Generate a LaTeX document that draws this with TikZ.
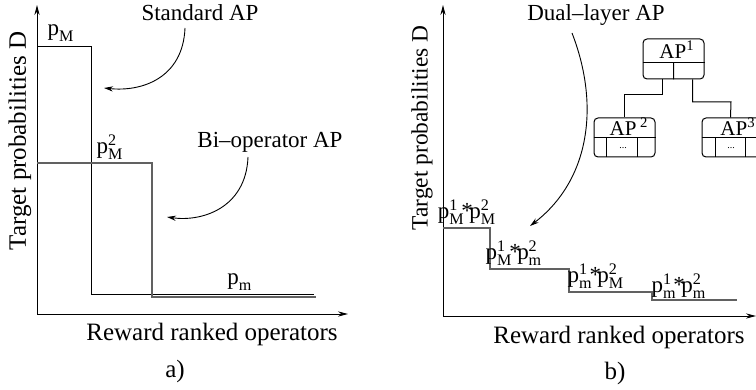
\documentclass[tikz,border=0pt]{standalone}
\usepackage{amsmath}
\usepackage{fontspec}
\setmainfont{Liberation Serif}
\usetikzlibrary{arrows.meta,calc}
\newcommand{\pq}[2]{p\ensuremath{{}^{\text{#1}}_{\text{#2}}}}
\newcommand{\pqq}[4]{\pq{#1}{#2}\kern-1.6pt*\kern-1.8pt\pq{#3}{#4}}
\begin{document}
\begin{tikzpicture}[x=0.5pt,y=-0.5pt,
  axis/.style={line width=0.5pt,-{Stealth[length=5pt,width=2.6pt]}},
  curvearrow/.style={line width=0.45pt,-{Stealth[length=4.5pt,width=2.6pt]}},
  lbl/.style={inner sep=0pt,font=\fontsize{11.5}{13}\selectfont},
  axlbl/.style={inner sep=0pt,font=\fontsize{12.5}{15}\selectfont},
  plotline/.style={line width=0.5pt},
  grayline/.style={line width=0.6pt,draw=black!62},
  apbox/.style={draw,rounded corners=2pt,minimum width=30.5pt,minimum height=19.5pt,inner sep=0pt,line width=0.5pt},
  aptext/.style={inner sep=0pt,font=\fontsize{10.5}{11}\selectfont},
  dots/.style={inner sep=0pt,font=\fontsize{5}{5}\selectfont},
  cell/.style={line width=0.5pt},
  link/.style={line width=0.5pt}
  ]
\useasboundingbox (0,0) rectangle (756,390);
\clip (0,0) rectangle (756,390);

% ---------------- panel a ----------------
\coordinate (oa) at (37,314);
\coordinate (ya) at (37,5);
\coordinate (xa) at (348,314);
\draw[axis] (oa) -- (ya);
\draw[axis] (oa) -- (xa);
\node[axlbl,rotate=90] (yla) at (20,141) {Target probabilities D};
\node[axlbl] (xla) at (212,334) {Reward ranked operators};
\node[axlbl] (capa) at (175,371) {a)};

\draw[plotline] (37,47) -| (91,294) -- (314,294);
\draw[grayline] (37,163) -| (152,297) -- (316,297);

\node[lbl] (pM) at (61,33) {\pq{}{M}};
\node[lbl] (pM2) at (110,147) {\pq{2}{M}};
\node[lbl] (pm) at (240,282) {\pq{}{m}};

\node[lbl] (std) at (200,13) {Standard AP};
\coordinate (std1) at (185,28);
\coordinate (std2) at (104,88);
\draw[curvearrow] (std1) .. controls (183,78) and (142,92) .. (std2);

\node[lbl] (bio) at (270,142) {Bi--operator AP};
\coordinate (bio1) at (248,157);
\coordinate (bio2) at (167,217);
\draw[curvearrow] (bio1) .. controls (246,208) and (202,222) .. (bio2);

% ---------------- panel b ----------------
\coordinate (ob) at (443,316);
\coordinate (yb) at (443,5);
\coordinate (xb) at (756,316);
\draw[axis] (ob) -- (yb);
\draw[axis] (ob) -- (xb);
\node[inner sep=0pt,font=\fontsize{11.7}{14}\selectfont,rotate=90] (ylb) at (422,128) {Target probabilities D};
\node[axlbl] (xlb) at (619,337) {Reward ranked operators};
\node[axlbl] (capb) at (615,373) {b)};

\draw[grayline] (443,228) -| (490,269) -| (569,292) -| (652,300) -- (737,300);

\node[lbl] (l1) at (467,212) {\pqq{1}{M}{2}{M}};
\node[lbl] (l2) at (514,253) {\pqq{1}{M}{2}{m}};
\node[lbl] (l3) at (596,276) {\pqq{1}{m}{2}{M}};
\node[lbl] (l4) at (679,286) {\pqq{1}{m}{2}{m}};

\node[lbl] (dual) at (596,15) {Dual--layer AP};
\coordinate (dual1) at (572,33);
\coordinate (dual2) at (530,226);
\draw[curvearrow] (dual1) .. controls (600,105) and (590,180) .. (dual2);

% tree
\node[apbox,minimum height=20pt] (ap1) at (673.5,59) {};
\node[apbox] (ap2) at (624.5,137.5) {};
\node[apbox] (ap3) at (732.5,137.5) {};

\draw[cell] ($(ap1.south west)!0.425!(ap1.north west)$) -- ($(ap1.south east)!0.425!(ap1.north east)$);
\draw[cell] ($(ap1.south west)!0.425!(ap1.north west)+(31,0)$) -- ($(ap1.south west)+(31,0)$);
\node[aptext] (t1) at (677,50) {AP\textsuperscript{1}};

\draw[cell] ($(ap2.south west)!0.5!(ap2.north west)$) -- ($(ap2.south east)!0.5!(ap2.north east)$);
\draw[cell] ($(ap2.south west)!0.5!(ap2.north west)+(13,0)$) -- ($(ap2.south west)+(13,0)$);
\draw[cell] ($(ap2.south west)!0.5!(ap2.north west)+(44,0)$) -- ($(ap2.south west)+(44,0)$);
\node[aptext] (t2) at (629,127) {AP\,\textsuperscript{2}};
\node[dots] (d2) at (623,148) {...};

\draw[cell] ($(ap3.south west)!0.5!(ap3.north west)$) -- ($(ap3.south east)!0.5!(ap3.north east)$);
\draw[cell] ($(ap3.south west)!0.5!(ap3.north west)+(14,0)$) -- ($(ap3.south west)+(14,0)$);
\draw[cell] ($(ap3.south west)!0.5!(ap3.north west)+(44,0)$) -- ($(ap3.south west)+(44,0)$);
\node[aptext] (t3) at (738,127) {AP\textsuperscript{3}};
\node[dots] (d3) at (731,148) {...};

\draw[link] ($(ap1.south west)+(20,0)$) |- (624.5,95) -- (ap2.north);
\draw[link] ($(ap1.south west)+(50,0)$) |- (731,102) -- ($(ap3.north west)+(29,0)$);
\end{tikzpicture}
\end{document}
